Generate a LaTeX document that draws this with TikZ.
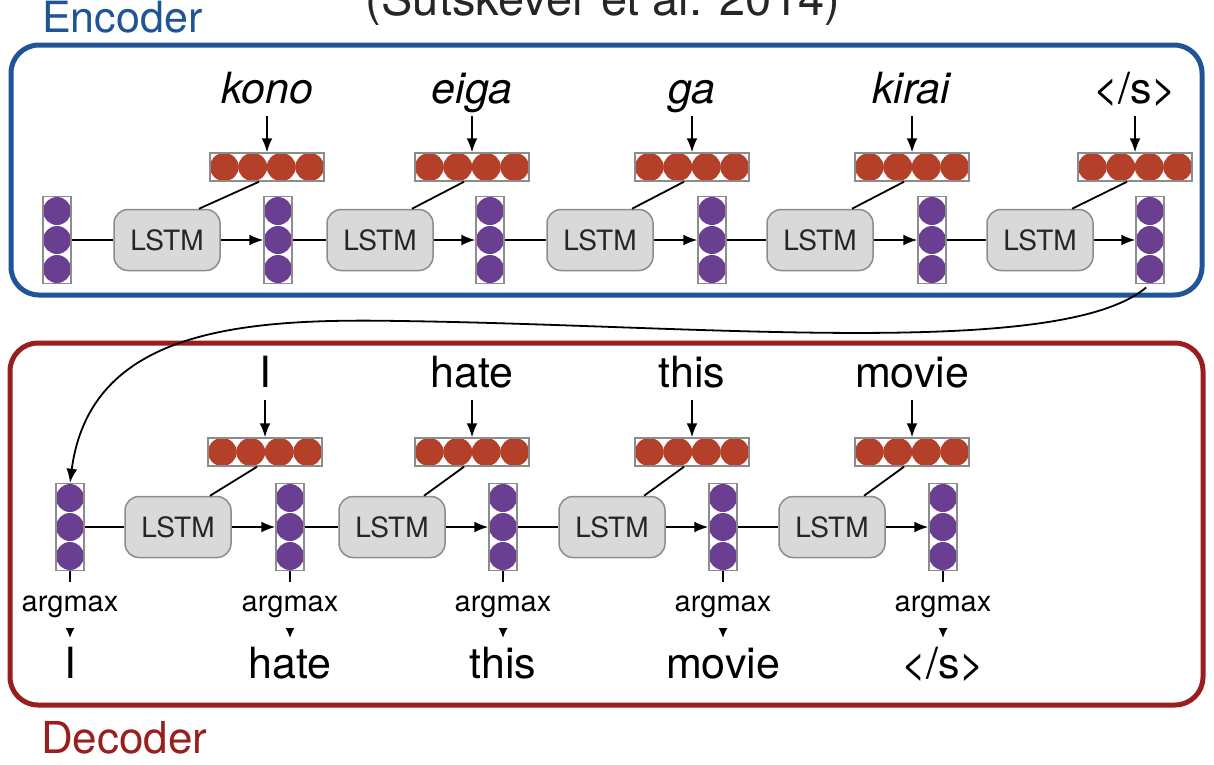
\documentclass[tikz,border=0pt]{standalone}
\usepackage{fontspec}
\setmainfont{TeX Gyre Heros}
\usepackage{xcolor}
\usepackage{tikz}
\usetikzlibrary{calc, positioning, arrows.meta}

\definecolor{encblue}{RGB}{31,84,150}
\definecolor{decred}{RGB}{155,30,30}
\definecolor{embred}{RGB}{181,64,42}
\definecolor{hidpurple}{RGB}{106,62,145}
\definecolor{boxgray}{RGB}{217,217,217}
\definecolor{rimgray}{RGB}{140,140,140}

\tikzset{
  hvec/.style={draw=rimgray, line width=1.5pt, minimum width=28pt, minimum height=87pt, inner sep=0pt,
    path picture={\foreach \k in {-29,0,29} \fill[hidpurple] ($(path picture bounding box.center)+(0pt,\k pt)$) circle (14pt);}},
  evec/.style={draw=rimgray, line width=1.5pt, minimum width=114pt, minimum height=28pt, inner sep=0pt,
    path picture={\foreach \k in {-42.75,-14.25,14.25,42.75} \fill[embred] ($(path picture bounding box.center)+(\k pt,0pt)$) ellipse (14.5pt and 14pt);}},
  lstm/.style={draw=rimgray, fill=boxgray, line width=1.5pt, rounded corners=14pt, minimum width=106pt, minimum height=61pt,
    text=black!85, font=\fontsize{28}{30}\selectfont},
  word/.style={anchor=base, inner xsep=0pt, inner ysep=13pt, text depth=0pt, font=\fontsize{43}{46}\selectfont},
  outword/.style={anchor=base, inner xsep=0pt, inner ysep=10pt, text height=30pt, text depth=0pt, font=\fontsize{43}{46}\selectfont},
  argm/.style={fill=white, inner xsep=2pt, inner ysep=10pt, text height=20pt, text depth=6pt, font=\fontsize{29}{31}\selectfont},
  conn/.style={line width=1.8pt},
  arr/.style={conn, -{Latex[length=14pt,width=11pt]}},
  frame/.style={line width=5pt, rounded corners=28pt},
}

\begin{document}
\begin{tikzpicture}[x=1pt, y=-1pt]
  \useasboundingbox (0,0) rectangle (1214,764);

  \node[anchor=base, font=\fontsize{47}{50}\selectfont, text=black!85] (cite) at (603,15) {(Sutskever et al. 2014)};

  % frames
  \draw[frame, encblue] (11,45) rectangle (1202,295);
  \draw[frame, decred] (10,343) rectangle (1203,705);
  \node[anchor=base west, inner sep=0pt, text=encblue, font=\fontsize{43}{46}\selectfont] (enclabel) at (42,32) {Encoder};
  \node[anchor=base west, inner sep=0pt, text=decred, font=\fontsize{44}{47}\selectfont] (declabel) at (41,753) {Decoder};

  % encoder
  \foreach \i/\x in {0/57,1/278,2/490,3/712,4/932,5/1150}
    \node[hvec] (h\i) at (\x,240) {};
  \foreach \i/\x in {1/167,2/380,3/600,4/820,5/1040}
    \node[lstm] (l\i) at (\x,240) {LSTM};
  \foreach \i/\x/\w in {1/267/\textit{kono},2/472/\textit{eiga},3/692/\textit{ga},4/912/\textit{kirai},5/1135/{</s>}} {
    \node[evec] (e\i) at (\x,167) {};
    \node[word] (w\i) at (\x,103) {\w};
    \draw[arr] (w\i.south) -- (e\i.north);
  }
  \foreach \p/\n in {0/1,1/2,2/3,3/4,4/5} {
    \draw[conn] (h\p.east) -- (l\n.west);
    \draw[arr] (l\n.east) -- (h\n.west);
    \draw[conn] ($(e\n.south)+(-8,0)$) -- ($(l\n.north)+(32,0)$);
  }

  % decoder
  \foreach \i/\x in {0/70,1/290,2/503,3/723,4/943}
    \node[hvec] (d\i) at (\x,527) {};
  \foreach \i/\x in {1/178,2/392,3/612,4/832}
    \node[lstm] (m\i) at (\x,527) {LSTM};
  \foreach \i/\x/\w in {1/265/I,2/472/hate,3/692/this,4/912/movie} {
    \node[evec] (f\i) at (\x,452) {};
    \node[word] (v\i) at (\x,387) {\w};
    \draw[arr] (v\i.south) -- (f\i.north);
  }
  \foreach \p/\n in {0/1,1/2,2/3,3/4} {
    \draw[conn] (d\p.east) -- (m\n.west);
    \draw[arr] (m\n.east) -- (d\n.west);
    \draw[conn] ($(f\n.south)+(-8,0)$) -- ($(m\n.north)+(32,0)$);
  }
  \foreach \i/\x/\w in {0/70/I,1/290/hate,2/503/this,3/723/movie,4/943/{</s>}} {
    \node[outword] (o\i) at (\x,678) {\w};
    \draw[conn, -{Latex[length=12pt,width=12pt]}] (d\i.south) -- node[argm] (a\i) {argmax} (o\i.north);
  }

  % hand-over from encoder to decoder
  \draw[arr, shorten <=5pt] (h5.south) .. controls (1060,360) and (700,325) .. (400,321)
    .. controls (240,318) and (90,330) .. (d0.north);
\end{tikzpicture}
\end{document}
